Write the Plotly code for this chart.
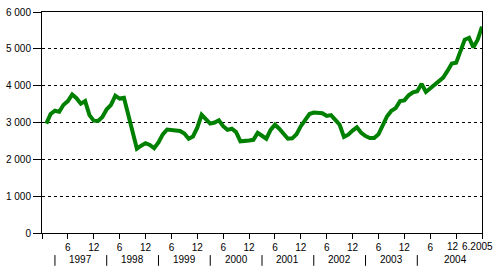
import plotly.graph_objects as go

# month index: 1 = January 1997 ... 102 = June 2005
months = list(range(1, 103))
values = [
    2970, 3230, 3320, 3290, 3480, 3580, 3760, 3660, 3510, 3580, 3200, 3050,
    3040, 3150, 3360, 3480, 3730, 3650, 3670, 3200, 2700, 2290, 2370, 2440,
    2390, 2300, 2460, 2680, 2810, 2800, 2800, 2770, 2700, 2560, 2620, 2860,
    3210, 3080, 2970, 3000, 3060, 2900, 2800, 2830, 2740, 2490, 2490, 2510,
    2530, 2720, 2640, 2560, 2800, 2940, 2830, 2690, 2560, 2570, 2680, 2900,
    3080, 3230, 3270, 3270, 3250, 3180, 3200, 3070, 2940, 2610, 2670, 2780,
    2870, 2720, 2630, 2580, 2580, 2680, 2920, 3170, 3320, 3390, 3580, 3600,
    3740, 3820, 3850, 4050, 3830, 3920, 4020, 4110, 4220, 4400, 4600, 4620,
    4900, 5250, 5300, 5040, 5250, 5600,
]

x_tickvals = list(range(0, 103, 6))
x_ticktext = [""] + ["6", "12"] * 7 + ["6", "", ""]
# last two tick labels drawn as annotations so they don't collide
end_labels = ["12", "6.2005"]
end_label_pos = [95.3, 96.9]
end_label_anchor = ["center", "left"]

y_tickvals = [0, 1000, 2000, 3000, 4000, 5000, 6000]
y_ticktext = ["0", "1 000", "2 000", "3 000", "4 000", "5 000", "6 000"]

years = ["1997", "1998", "1999", "2000", "2001", "2002", "2003", "2004"]
year_label_pos = [9, 21, 33, 45, 57, 69, 81, 95.8]
year_separators = [3, 15, 27, 39, 51, 63, 75, 87]

FONT = "Liberation Sans, Arial, sans-serif"
PLOT_H = 227.3
BOTTOM = 233.3


def paper_y(px):
    return -(px - BOTTOM) / PLOT_H


fig = go.Figure()
fig.add_trace(go.Scatter(
    x=months, y=values, mode="lines",
    line=dict(color="#008000", width=4),
    hoverinfo="skip",
))

for yr, xp in zip(years, year_label_pos):
    fig.add_annotation(
        x=xp, y=paper_y(261), xref="x", yref="paper", text=yr, showarrow=False,
        font=dict(family=FONT, size=10, color="#000"),
        xanchor="center", yanchor="middle",
    )

for txt, xp, anc in zip(end_labels, end_label_pos, end_label_anchor):
    fig.add_annotation(
        x=xp, y=paper_y(247.5), xref="x", yref="paper",
        text=txt, showarrow=False,
        font=dict(family=FONT, size=10, color="#000"),
        xanchor=anc, yanchor="middle",
    )

for sx in year_separators:
    fig.add_shape(
        type="line", x0=sx, x1=sx, xref="x", yref="paper",
        y0=paper_y(256), y1=paper_y(267),
        line=dict(color="#000", width=1),
    )

fig.update_layout(
    width=497, height=268,
    margin=dict(l=41, r=15, t=6, b=34.7, pad=0),
    paper_bgcolor="white", plot_bgcolor="white",
    showlegend=False,
    font=dict(family=FONT, size=10, color="#000"),
    xaxis=dict(
        range=[0, 102], tickmode="array", tickvals=x_tickvals, ticktext=x_ticktext,
        showgrid=False, zeroline=False, showline=True, linecolor="#000", linewidth=1,
        mirror=True, ticks="outside", ticklen=5, tickcolor="#000", tickwidth=1,
        tickfont=dict(family=FONT, size=10, color="#000"), tickangle=0,
    ),
    yaxis=dict(
        range=[0, 6000], tickmode="array", tickvals=y_tickvals, ticktext=y_ticktext,
        showgrid=True, gridcolor="#000", gridwidth=1, griddash="3px,3px",
        zeroline=False, showline=True, linecolor="#000", linewidth=1,
        mirror=True, ticks="outside", ticklen=8, tickcolor="#000", tickwidth=1,
        tickfont=dict(family=FONT, size=10, color="#000"),
    ),
)

fig.write_html("out.html")
